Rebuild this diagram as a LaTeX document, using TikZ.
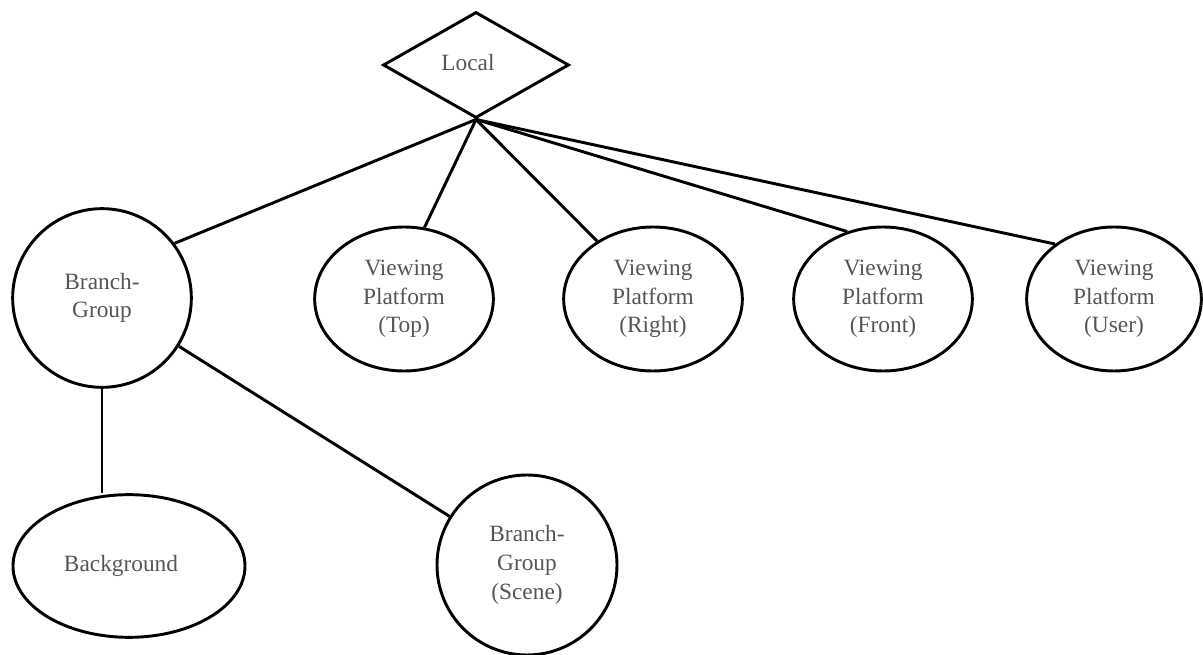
\documentclass[tikz,border=0pt]{standalone}
\usepackage{fontspec}
\setmainfont{Liberation Serif}
\usetikzlibrary{shapes.geometric}
\definecolor{labelgray}{RGB}{85,85,85}
\tikzset{
  shapebox/.style={draw, line width=2.2pt, inner sep=0pt, align=center, text=labelgray, font=\fontsize{17.5}{21.5}\selectfont},
  viewnode/.style={shapebox, ellipse, minimum width=134pt, minimum height=108pt},
  groupnode/.style={shapebox, circle, minimum size=134pt},
  link/.style={line width=2.2pt},
}
\begin{document}
\begin{tikzpicture}[x=0.75pt,y=0.75pt,yscale=-1,xscale=1]
        \useasboundingbox (0,0) rectangle (1203,655);
        % Text Node
        \node [shapebox, diamond, minimum width=139.5pt, minimum height=79.5pt] (local) at (476,65) {\raisebox{4pt}{Local}\hspace*{12pt}};
        % Text Node
        \node [groupnode] (branch) at (102,298) {Branch-\\Group};
        % Text Node
        \node [viewnode] (top) at (404,299) {Viewing\\Platform\\(Top)};
        % Text Node
        \node [viewnode] (right) at (653,299) {Viewing\\Platform\\(Right)};
        % Text Node
        \node [viewnode] (front) at (883,299) {Viewing\\Platform\\(Front)};
        % Text Node
        \node [viewnode, minimum width=131pt] (user) at (1114,299) {Viewing\\Platform\\(User)};
        % Text Node
        \node [shapebox, ellipse, minimum width=174pt, minimum height=107pt] (background) at (129,566) {Background\hspace*{12pt}};
        % Text Node
        \node [groupnode, minimum size=135pt] (scene) at (527,565) {Branch-\\Group\\(Scene)};
        % Connection
        \draw [link] (local.south) -- (branch.37);
        \draw [link] (local.south) -- (top.74);
        \draw [link] (local.south) -- (right.134);
        \draw [link] (local.south) -- (front.118);
        \draw [link] (local.south) -- (user.137);
        % Connection
        \draw [link] (branch.south) -- (branch.south |- background.north);
        \draw [link] (branch) -- (scene);
\end{tikzpicture}
\end{document}
